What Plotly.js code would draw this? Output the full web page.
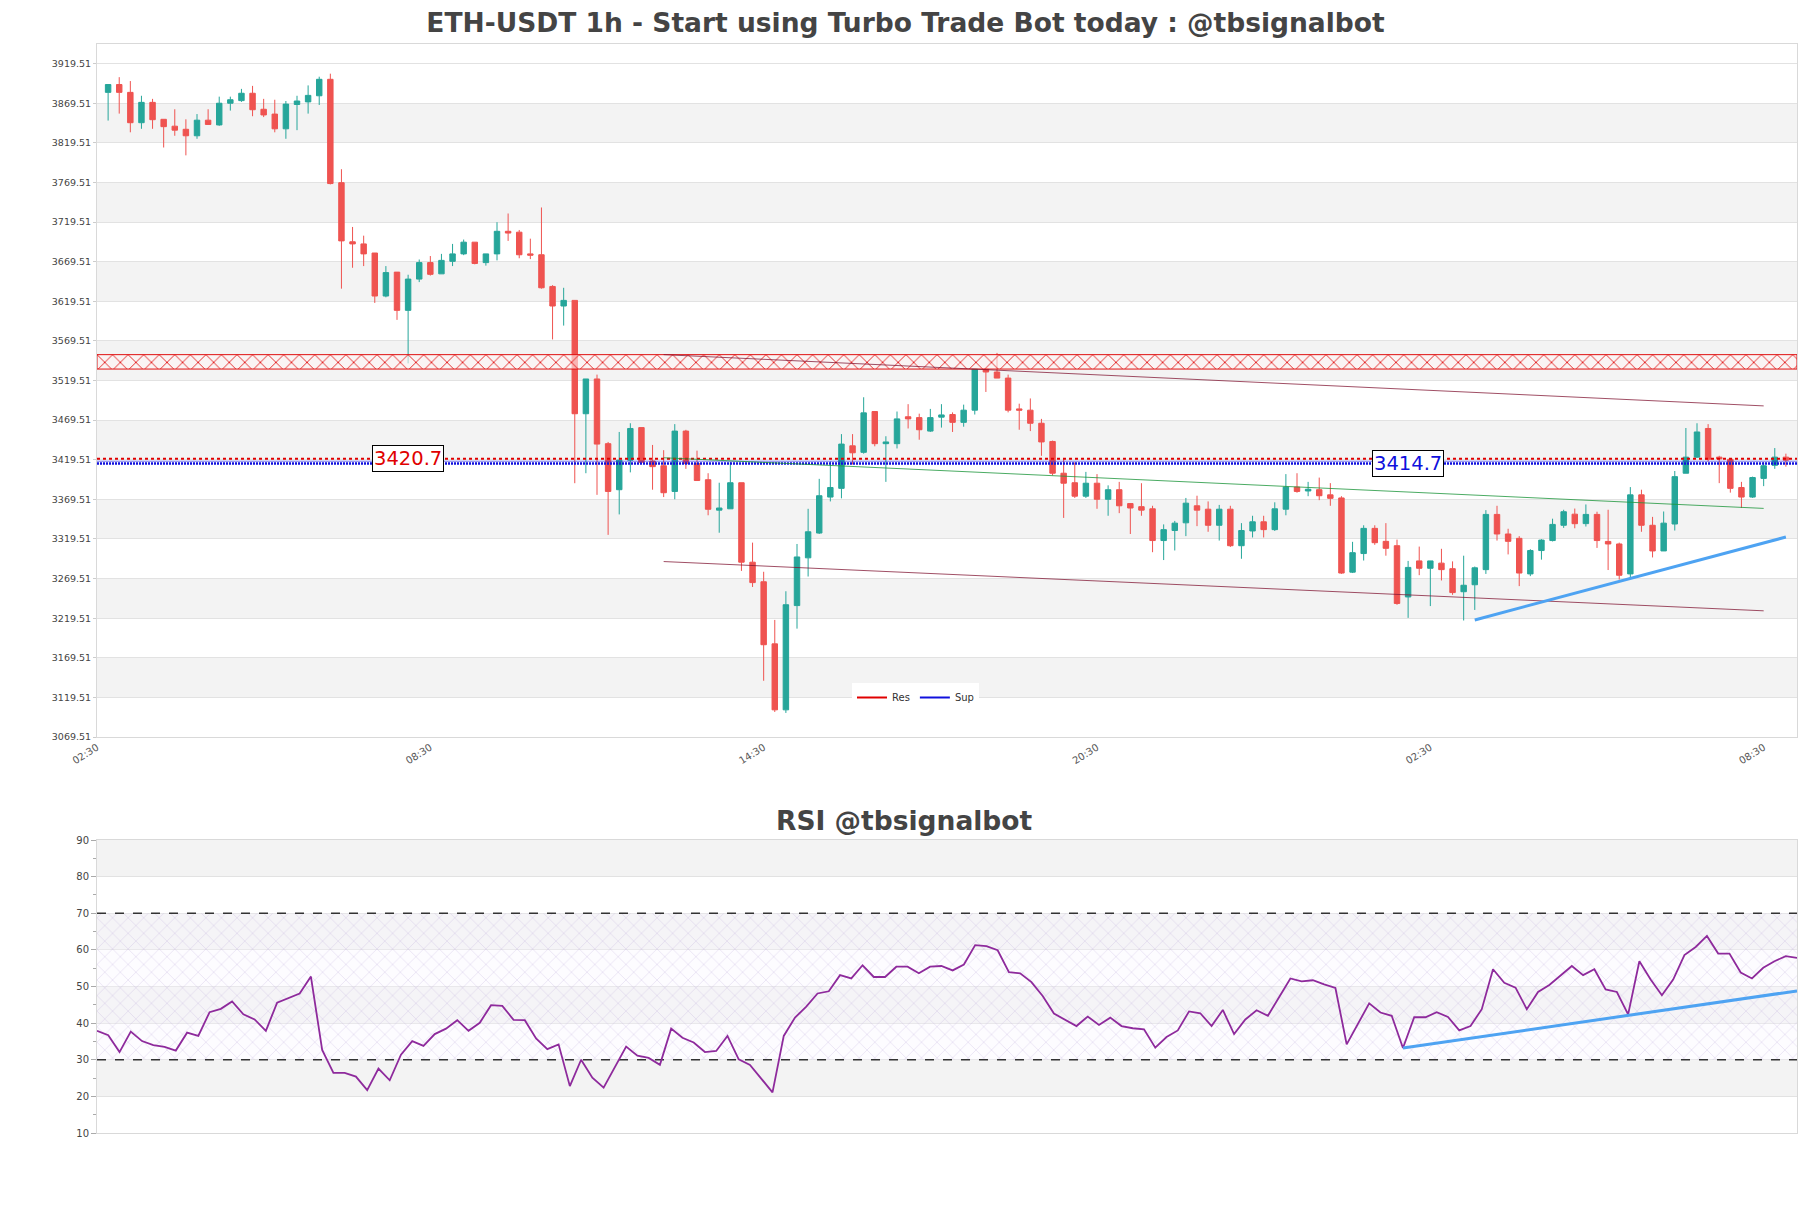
<!DOCTYPE html>
<html>
<head>
<meta charset="utf-8">
<script src="https://cdn.plot.ly/plotly-3.0.1.min.js"></script>
<style>html,body{margin:0;padding:0;background:#fff;}#chart{width:1811px;height:1208px;}</style>
</head>
<body>
<div id="chart"></div>
<script>
// ---------- DATA ----------
const opens = [3883.3,3893.2,3883.3,3845.0,3870.7,3849.3,3840.6,3836.7,3828.5,3848.2,3842.2,3869.6,3872.9,3882.2,3862.0,3855.9,3837.3,3868.0,3871.3,3879.0,3899.8,3769.3,3694.7,3692.0,3680.5,
3626.2,3656.4,3608.1,3647.6,3668.4,3654.2,3670.0,3679.4,3694.2,3668.4,3679.4,3707.9,3706.8,3679.4,3678.3,3638.3,3613.6,3620.7,3477.6,3521.5,3439.8,3381.7,3419.0,3460.1,3417.9,3411.9,
3379.5,3455.7,3414.6,3394.3,3355.9,3357.6,3390.5,3290.2,3265.5,3187.1,3103.8,3235.4,3295.7,3327.0,3372.4,3383.4,3437.1,3428.9,3480.4,3439.8,3439.8,3473.8,3472.7,3455.7,3473.3,3476.6,
3466.7,3482.1,3534.1,3530.3,3522.6,3483.7,3482.1,3465.6,3442.6,3402.5,3390.5,3373.5,3389.9,3369.6,3381.7,3364.2,3360.3,3357.6,3317.5,3330.2,3339.9,3361.4,3357.1,3336.8,3357.1,
3311.0,3329.6,3341.2,3331.3,3357.1,3385.0,3380.1,3381.7,3375.2,3371.3,3277.6,3301.1,3332.9,3316.5,3311.0,3246.3,3291.8,3282.5,3289.0,3282.0,3252.9,3261.7,3280.8,3350.5,3325.8,3320.3,
3275.4,3304.9,3317.5,3336.8,3350.8,3338.9,3350.5,3316.4,3313.2,3275.4,3375.2,3336.8,3304.4,3338.4,3402.5,3422.8,3459.0,3422.8,3420.1,3384.5,3372.4,3396.0,3412.5,3422.8];
const highs = [3893.2,3902.5,3897.6,3879.0,3875.1,3849.3,3862.0,3849.3,3855.9,3862.0,3877.9,3877.9,3887.7,3891.5,3875.1,3874.0,3872.4,3879.0,3892.1,3903.1,3906.9,3786.3,3713.4,3702.4,3680.5,
3664.0,3656.4,3653.1,3672.3,3676.7,3679.4,3692.0,3697.5,3694.2,3679.4,3719.4,3730.4,3709.6,3698.6,3738.0,3639.9,3636.6,3620.7,3521.5,3527.0,3442.0,3454.6,3465.6,3460.1,3438.2,3431.6,
3464.5,3457.3,3431.0,3402.5,3390.5,3416.3,3390.5,3314.9,3278.1,3217.3,3253.5,3313.2,3357.6,3395.4,3417.4,3451.9,3451.9,3498.4,3480.4,3449.2,3480.4,3489.7,3477.7,3483.7,3489.7,3479.3,
3489.1,3534.1,3534.1,3554.4,3527.0,3490.3,3496.9,3471.1,3443.7,3421.8,3416.3,3404.2,3401.4,3387.2,3391.6,3364.2,3389.9,3361.4,3337.9,3342.3,3371.3,3374.1,3366.9,3362.5,3361.4,
3339.5,3348.8,3348.8,3365.8,3401.4,3402.5,3391.6,3397.0,3390.0,3373.5,3315.9,3336.8,3336.8,3339.5,3318.7,3291.8,3309.9,3291.8,3307.1,3291.2,3298.4,3284.7,3355.9,3361.4,3332.4,3323.1,
3306.6,3319.2,3345.1,3356.4,3357.9,3363.1,3353.9,3356.4,3314.9,3385.0,3381.7,3347.4,3354.2,3405.3,3459.6,3465.6,3464.5,3424.5,3420.1,3391.6,3398.2,3416.3,3434.3,3427.2];
const lows = [3847.7,3856.5,3832.9,3837.3,3837.3,3813.7,3828.5,3803.8,3824.7,3842.8,3841.1,3860.3,3871.3,3853.2,3852.1,3832.9,3824.7,3835.6,3856.5,3867.4,3767.1,3635.5,3661.9,3664.0,3617.5,
3624.6,3596.1,3541.2,3643.8,3652.0,3654.2,3664.0,3677.8,3666.2,3664.6,3671.2,3695.8,3673.9,3672.8,3635.5,3571.4,3588.9,3389.9,3402.5,3375.2,3324.7,3350.5,3403.6,3416.3,3381.7,3372.4,
3369.6,3408.0,3393.3,3349.4,3327.4,3357.6,3279.2,3258.9,3140.5,3101.1,3099.9,3206.3,3272.1,3325.8,3366.9,3370.8,3413.5,3427.2,3436.5,3391.6,3433.8,3459.0,3444.8,3454.6,3460.1,3454.6,
3461.2,3476.6,3505.1,3522.6,3479.3,3457.4,3455.7,3424.5,3399.8,3346.1,3371.3,3371.3,3357.6,3348.8,3352.1,3325.8,3348.8,3302.8,3292.9,3305.0,3323.1,3335.7,3328.6,3317.5,3309.4,
3294.5,3321.4,3321.4,3329.6,3349.4,3377.9,3373.5,3368.5,3361.4,3275.4,3276.5,3292.3,3312.1,3298.4,3236.4,3219.9,3273.8,3234.8,3267.1,3249.0,3216.6,3229.9,3275.4,3317.5,3300.0,3260.0,
3272.6,3293.4,3316.4,3333.5,3333.0,3335.2,3308.2,3280.3,3268.2,3271.0,3328.6,3296.2,3304.4,3330.2,3402.5,3421.7,3417.4,3390.0,3378.0,3358.6,3371.3,3386.2,3408.0,3410.8];
const closes = [3893.2,3883.3,3845.0,3870.7,3848.8,3840.0,3835.6,3828.5,3848.2,3842.8,3869.6,3874.0,3882.2,3861.4,3854.8,3837.3,3868.5,3872.4,3879.5,3899.8,3768.2,3695.8,3692.0,3679.4,3626.2,
3655.8,3608.1,3647.6,3668.4,3653.6,3671.2,3679.4,3694.2,3667.3,3679.4,3707.9,3705.7,3678.3,3677.8,3636.6,3613.6,3620.7,3477.6,3521.5,3439.3,3379.5,3419.0,3459.0,3416.3,3410.8,3377.9,
3455.7,3414.6,3393.3,3357.0,3358.6,3390.5,3290.2,3264.4,3186.0,3103.8,3236.5,3296.8,3328.6,3374.1,3384.5,3439.3,3428.3,3478.7,3439.8,3442.0,3471.1,3471.1,3457.4,3472.7,3476.1,3466.7,
3482.1,3534.1,3530.3,3522.6,3482.1,3482.1,3465.6,3442.0,3402.5,3389.9,3373.5,3389.9,3369.6,3381.7,3361.4,3358.6,3355.9,3317.5,3331.3,3339.5,3364.7,3355.9,3336.8,3357.1,3311.0,
3330.2,3341.2,3331.3,3357.6,3385.0,3379.5,3382.3,3374.1,3370.8,3276.5,3302.2,3332.9,3314.8,3307.7,3238.1,3283.6,3282.5,3291.8,3280.8,3251.8,3261.1,3283.1,3350.5,3325.8,3316.5,3276.5,
3304.9,3318.1,3337.9,3353.9,3338.8,3350.5,3317.5,3313.2,3273.7,3375.2,3336.8,3304.4,3339.5,3398.2,3422.8,3454.6,3420.1,3420.6,3383.4,3372.4,3397.1,3411.9,3422.8,3419.0];

const rsi = [37.9,36.7,32.1,37.7,35.1,34.0,33.5,32.5,37.4,36.5,43.0,43.9,45.9,42.4,41.0,37.9,45.6,46.8,48.1,52.7,
32.7,26.4,26.4,25.4,21.7,27.6,24.4,31.4,35.1,33.8,37.0,38.5,40.8,37.9,40.1,44.9,44.7,40.9,40.8,35.8,
32.9,34.2,22.8,30.0,25.1,22.4,28.1,33.6,31.1,30.5,28.6,38.5,36.0,34.7,32.1,32.4,36.5,30.1,28.6,24.9,
21.1,36.5,41.5,44.5,48.1,48.7,53.1,52.2,55.8,52.6,52.6,55.4,55.4,53.6,55.4,55.6,54.4,56.0,61.3,61.0,
59.9,53.9,53.6,51.2,47.4,42.6,41.0,39.2,41.8,39.5,41.5,39.2,38.6,38.3,33.3,36.2,38.0,43.2,42.7,39.2,
43.6,37.0,41.0,43.5,42.0,47.1,52.2,51.4,51.7,50.6,49.6,34.2,39.9,45.4,42.9,42.0,33.2,41.6,41.6,43.0,
41.7,38.0,39.2,43.8,54.7,51.0,49.7,43.8,48.5,50.4,53.0,55.6,53.1,54.7,49.2,48.5,42.4,56.9,51.9,47.6,
51.9,58.6,60.8,63.8,59.0,59.0,53.8,52.2,55.1,56.9,58.3,57.8];

const xTickLabels = ['02:30','08:30','14:30','20:30','02:30','08:30'];
const xTickIdx = [-1,29,59,89,119,149];
const yTickVals = [3069.51,3119.51,3169.51,3219.51,3269.51,3319.51,3369.51,3419.51,3469.51,3519.51,3569.51,3619.51,3669.51,3719.51,3769.51,3819.51,3869.51,3919.51];

const resZone = [3534.0, 3552.2];
const resLevel = 3420.7;
const supLevel = 3414.7;

const trendUpper = {x:[50,149], y:[3552.2,3487.5]};
const trendLower = {x:[50,149], y:[3291.0,3228.8]};
const trendMid   = {x:[50,149], y:[3422.0,3358.1]};
const trendBlue  = {x:[123,151], y:[3217.3,3321.9]};
const rsiTrend   = {x:[116,151], y:[33.2,48.8]};

const rsiLevels = [30,70];
const rsiZone = [30,70];

// ---------- BUILD ----------
const idx = closes.map((_, i) => i);
const xr = [-1, 152];
const xr2 = [0, rsi.length - 1];

const traces = [];

// Res zone hatch
traces.push({
  type:'scatter', mode:'lines', x:[xr[0],xr[1],xr[1],xr[0],xr[0]], y:[resZone[0],resZone[0],resZone[1],resZone[1],resZone[0]],
  fill:'toself', fillcolor:'rgba(255,240,240,0.5)',
  fillpattern:{shape:'x', fgcolor:'#e01010', bgcolor:'rgba(255,245,245,0.6)', size:11, solidity:0.15},
  line:{color:'#e01010', width:1}, hoverinfo:'skip', showlegend:false, xaxis:'x', yaxis:'y'
});

// candles
traces.push({
  type:'candlestick', x:idx, open:opens, high:highs, low:lows, close:closes,
  increasing:{line:{color:'#26a69a', width:1}, fillcolor:'#26a69a'},
  decreasing:{line:{color:'#ef5350', width:1}, fillcolor:'#ef5350'},
  whiskerwidth:0, showlegend:false, xaxis:'x', yaxis:'y'
});

// S/R lines
traces.push({type:'scatter', mode:'lines', x:xr, y:[resLevel,resLevel], line:{color:'#e00000', width:2, dash:'dot'}, showlegend:false, hoverinfo:'skip'});
traces.push({type:'scatter', mode:'lines', x:xr, y:[supLevel,supLevel], line:{color:'#1010dd', width:2.5, dash:'2px,1px'}, showlegend:false, hoverinfo:'skip'});
traces.push({type:'scatter', mode:'lines', x:xr, y:[(resLevel+supLevel)/2,(resLevel+supLevel)/2], line:{color:'rgba(20,20,220,0.6)', width:1}, showlegend:false, hoverinfo:'skip'});

// trend lines
traces.push({type:'scatter', mode:'lines', x:trendUpper.x, y:trendUpper.y, line:{color:'rgba(128,20,50,0.75)', width:1}, showlegend:false, hoverinfo:'skip'});
traces.push({type:'scatter', mode:'lines', x:trendLower.x, y:trendLower.y, line:{color:'rgba(128,20,50,0.75)', width:1}, showlegend:false, hoverinfo:'skip'});
traces.push({type:'scatter', mode:'lines', x:trendMid.x, y:trendMid.y, line:{color:'rgba(30,150,60,0.8)', width:1}, showlegend:false, hoverinfo:'skip'});
traces.push({type:'scatter', mode:'lines', x:trendBlue.x, y:trendBlue.y, line:{color:'#4ea3f2', width:3}, showlegend:false, hoverinfo:'skip'});

// legend dummies
traces.push({type:'scatter', mode:'lines', x:[null], y:[null], name:'Res', line:{color:'#e00000', width:2}});
traces.push({type:'scatter', mode:'lines', x:[null], y:[null], name:'Sup', line:{color:'#1010dd', width:2}});

// RSI hatch zone
traces.push({
  type:'scatter', mode:'lines', x:[xr2[0],xr2[1],xr2[1],xr2[0],xr2[0]], y:[rsiZone[0],rsiZone[0],rsiZone[1],rsiZone[1],rsiZone[0]],
  fill:'toself', fillcolor:'rgba(0,0,0,0)',
  fillpattern:{shape:'x', fgcolor:'rgba(190,165,215,0.6)', bgcolor:'rgba(250,245,255,0.3)', size:11, solidity:0.08},
  line:{width:0}, hoverinfo:'skip', showlegend:false, xaxis:'x2', yaxis:'y2'
});
rsiLevels.forEach(v => {
  traces.push({type:'scatter', mode:'lines', x:xr2, y:[v,v], line:{color:'#333', width:1.3, dash:'dash'}, showlegend:false, hoverinfo:'skip', xaxis:'x2', yaxis:'y2'});
});
traces.push({type:'scatter', mode:'lines', x:rsi.map((_,i)=>i), y:rsi, line:{color:'#8e2a9c', width:1.8}, showlegend:false, xaxis:'x2', yaxis:'y2'});
traces.push({type:'scatter', mode:'lines', x:rsiTrend.x, y:rsiTrend.y, line:{color:'#4ea3f2', width:3}, showlegend:false, hoverinfo:'skip', xaxis:'x2', yaxis:'y2'});

// background bands
const shapes = [];
for (let k = 1; k < yTickVals.length - 1; k += 2) {
  shapes.push({type:'rect', xref:'paper', x0:0, x1:1, yref:'y', y0:yTickVals[k], y1:yTickVals[k+1], fillcolor:'#f3f3f3', line:{width:0}, layer:'below'});
}
[[20,30],[40,50],[60,70],[80,90]].forEach(b => {
  shapes.push({type:'rect', xref:'x2 domain', x0:0, x1:1, yref:'y2', y0:b[0], y1:b[1], fillcolor:'#f3f3f3', line:{width:0}, layer:'below'});
});

const H = 1208;
const font = 'DejaVu Sans, Arial, sans-serif';
const layout = {
  width:1811, height:H,
  margin:{l:97, r:14, t:0, b:0},
  paper_bgcolor:'#fff', plot_bgcolor:'#fff',
  font:{family:font, color:'#444'},
  title:{text:'ETH-USDT 1h - Start using Turbo Trade Bot today : @tbsignalbot', font:{family:font, size:26.5, color:'#444', weight:'bold'}, x:0.5, xanchor:'center', xref:'container', y:1-23/H, yanchor:'middle', yref:'container'},
  showlegend:true,
  legend:{orientation:'h', x:(852-97)/1700, xanchor:'left', y:1-712/H, yanchor:'bottom', bgcolor:'#fff', font:{size:10, color:'#333'}, itemwidth:30, tracegroupgap:0},
  xaxis:{domain:[0,1], range:xr, anchor:'y', tickmode:'array', tickvals:xTickIdx, ticktext:xTickLabels, tickangle:-32,
         tickfont:{size:10, color:'#555'}, showgrid:false, zeroline:false, showline:true, mirror:true, linecolor:'#d9d9d9',
         rangeslider:{visible:false}, automargin:false, ticks:''},
  yaxis:{domain:[1-737/H, 1-43.5/H], range:[3069.51, 3945], tickmode:'array', tickvals:yTickVals, ticktext:yTickVals.map(v=>v.toFixed(2)),
         tickfont:{size:9.5, color:'#444'}, gridcolor:'#e2e2e2', zeroline:false, showline:true, mirror:true, linecolor:'#d9d9d9',
         ticks:'outside', ticklen:3, tickcolor:'#ccc', automargin:false},
  xaxis2:{domain:[0,1], range:xr2, anchor:'y2', showticklabels:false, showgrid:false, zeroline:false, showline:true, mirror:true, linecolor:'#d9d9d9', automargin:false},
  yaxis2:{domain:[1-1133/H, 1-840/H], range:[10,90], anchor:'x2', dtick:10, tick0:10, tickfont:{size:10, color:'#444'}, gridcolor:'#e2e2e2',
          zeroline:false, showline:true, mirror:true, linecolor:'#d9d9d9', ticks:'outside', ticklen:5, tickcolor:'#aaa',
          minor:{dtick:5, ticks:'outside', ticklen:3, tickcolor:'#aaa', showgrid:false}, automargin:false},
  shapes:shapes,
  annotations:[
    {text:'RSI @tbsignalbot', xref:'paper', yref:'paper', x:(904-97)/1700, y:1-820/H, xanchor:'center', yanchor:'middle', showarrow:false,
     font:{family:font, size:26.5, color:'#444', weight:'bold'}},
    {text:String(resLevel), xref:'x', yref:'y', x:27, y:resLevel, showarrow:false, font:{family:font, size:19.5, color:'#e00000'},
     bgcolor:'#fff', bordercolor:'#000', borderwidth:1, borderpad:1},
    {text:String(supLevel), xref:'x', yref:'y', x:117, y:supLevel, showarrow:false, font:{family:font, size:19.5, color:'#1010dd'},
     bgcolor:'#fff', bordercolor:'#000', borderwidth:1, borderpad:1}
  ]
};

Plotly.newPlot('chart', traces, layout, {displayModeBar:false, staticPlot:true});
</script>
</body>
</html>
